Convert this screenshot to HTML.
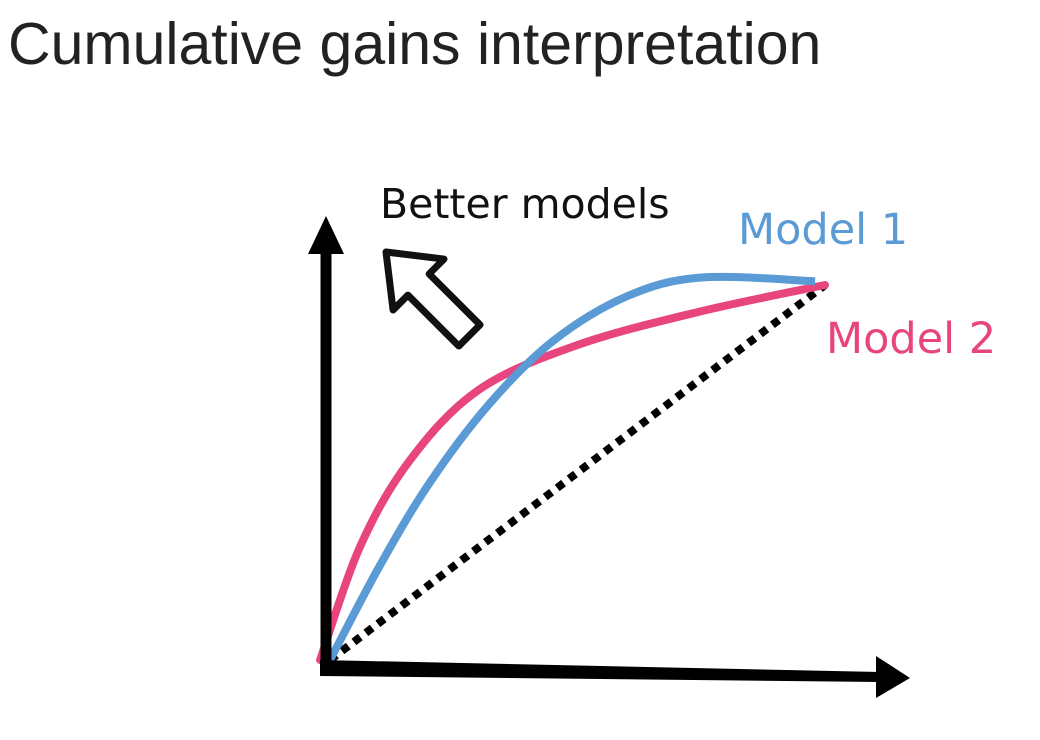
<!DOCTYPE html>
<html><head><meta charset="utf-8"><style>
body{margin:0;background:#fff;width:1040px;height:740px;overflow:hidden}
svg{display:block}
</style></head><body>
<svg id="chart" width="1040" height="740" viewBox="0 0 1040 740" font-family="Liberation Sans, sans-serif">
<text x="8" y="64" font-size="59" fill="#222">Cumulative gains interpretation</text>
<text x="380" y="218" font-size="41" fill="#111" font-family="DejaVu Sans, sans-serif">Better models</text>
<text x="738" y="244" font-size="43" fill="#5b9bd5" font-family="DejaVu Sans, sans-serif">Model 1</text>
<text x="826" y="353" font-size="43" fill="#e8457f" font-family="DejaVu Sans, sans-serif">Model 2</text>
<g transform="translate(386,252) rotate(-45)">
<polygon points="0,0 36,46 15,46 15,118 -15,118 -15,46 -36,46" fill="#fff" stroke="#111" stroke-width="7" stroke-linejoin="round"/>
</g>
<g id="plot"></g>
<g>
<line x1="326" y1="674" x2="326" y2="250" stroke="#000" stroke-width="11"/>
<polygon points="308,254 344,254 326,216" fill="#000"/>
</g>
<g>
<polygon points="320,660 880,672 880,682 320,676" fill="#000"/>
<polygon points="876,656 910,678 876,698" fill="#000"/>
</g>
</svg>
<script>
const baselineX=[0,1];
const baselineY=[0,1];
const model1X=[0,0.1,0.2,0.32,0.45,0.6,0.75,0.98];
const model1Y=[0,0.25,0.47,0.68,0.85,0.97,1.02,1.01];
const model2X=[-0.02,0.06,0.16,0.3,0.5,0.75,1];
const model2Y=[0,0.3,0.53,0.72,0.84,0.93,1];
const sx=v=>330+v*495;
const sy=v=>660-v*375;
function pathFrom(xs,ys){
  const p=xs.map((x,i)=>[sx(x),sy(ys[i])]);
  let d='M'+p[0][0]+','+p[0][1];
  for(let i=0;i<p.length-1;i++){
    const p0=p[Math.max(0,i-1)],p1=p[i],p2=p[i+1],p3=p[Math.min(p.length-1,i+2)];
    const c1=[p1[0]+(p2[0]-p0[0])/6,p1[1]+(p2[1]-p0[1])/6];
    const c2=[p2[0]-(p3[0]-p1[0])/6,p2[1]-(p3[1]-p1[1])/6];
    d+=' C'+c1+' '+c2+' '+p2;
  }
  return d;
}
const ns='http://www.w3.org/2000/svg';
const g=document.getElementById('plot');
const base=document.createElementNS(ns,'path');


base.setAttribute('d','M'+sx(baselineX[0])+','+sy(baselineY[0])+' L'+sx(baselineX[1])+','+sy(baselineY[1]));
base.setAttribute('stroke','#000');base.setAttribute('stroke-width','8');base.setAttribute('stroke-dasharray','8 7');base.setAttribute('fill','none');
g.appendChild(base);
const m2=document.createElementNS(ns,'path');


m2.setAttribute('d',pathFrom(model2X,model2Y));
m2.setAttribute('stroke','#e8457f');m2.setAttribute('stroke-width','8');m2.setAttribute('fill','none');m2.setAttribute('stroke-linecap','round');
g.appendChild(m2);
const m1=document.createElementNS(ns,'path');


m1.setAttribute('d',pathFrom(model1X,model1Y));
m1.setAttribute('stroke','#5b9bd5');m1.setAttribute('stroke-width','8');m1.setAttribute('fill','none');
g.appendChild(m1);
</script>
</body></html>
